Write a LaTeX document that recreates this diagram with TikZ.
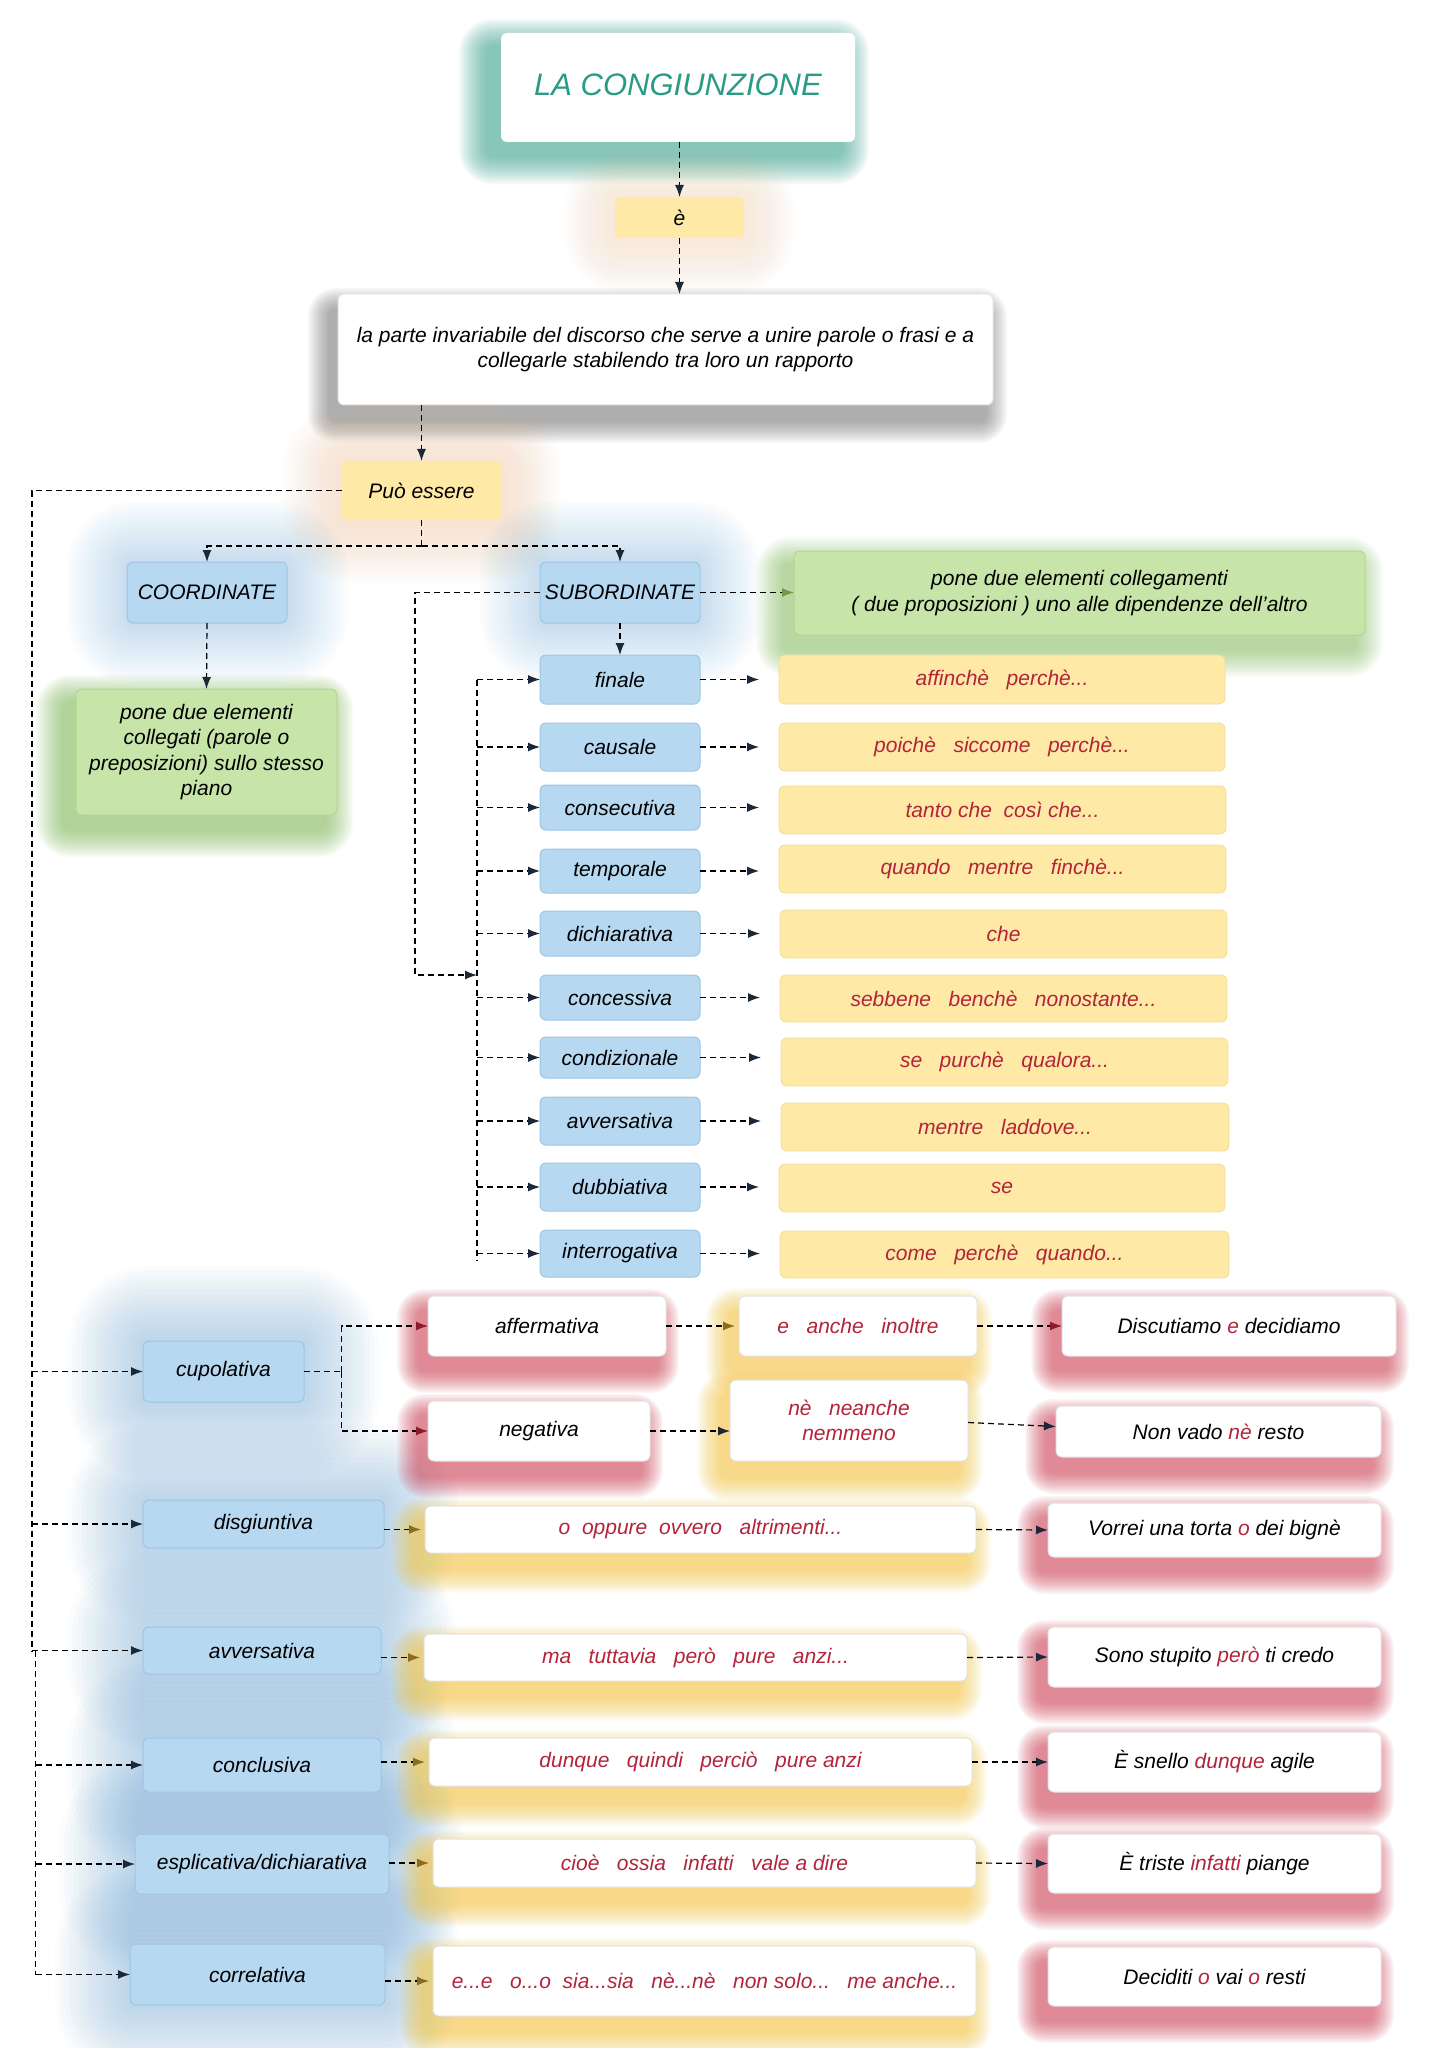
\documentclass[tikz,border=0pt]{standalone}
\usepackage{fontspec}
\setmainfont{Liberation Sans}
\usetikzlibrary{arrows.meta,calc}
\definecolor{bfill}{HTML}{B7D8F1}
\definecolor{bdraw}{HTML}{9EC5E3}
\definecolor{yfill}{HTML}{FEE9A6}
\definecolor{ydraw}{HTML}{F3DC9A}
\definecolor{gfill}{HTML}{C7E5A9}
\definecolor{gdraw}{HTML}{B2D693}
\definecolor{wdraw}{HTML}{E2E2E2}
\definecolor{rtext}{HTML}{B3243A}
\definecolor{ttext}{HTML}{2A9B85}
\definecolor{tglow}{HTML}{3FA893}
\definecolor{oglow}{HTML}{F8C08A}
\definecolor{bglow}{HTML}{6FA8D6}
\definecolor{gglow}{HTML}{7DBA55}
\definecolor{rglow}{HTML}{CF3B50}
\definecolor{yglow}{HTML}{F8C53A}
\definecolor{sglow}{HTML}{606060}
\definecolor{tipR}{HTML}{8E1B2B}
\definecolor{tipG}{HTML}{8C6D1F}
\definecolor{tipV}{HTML}{6E9A4A}
\definecolor{tipB}{HTML}{1B2838}
\pgfdeclarelayer{bglayer}
\pgfdeclarelayer{glowlayer}
\pgfsetlayers{bglayer,glowlayer,main}
\newcommand{\bx}[7][]{%
 \pgfmathsetmacro{\bxcx}{(#3+#5)/2}%
 \pgfmathsetmacro{\bxcy}{(#4+#6)/2}%
 \pgfmathsetmacro{\bxw}{(#5-#3)/2}%
 \pgfmathsetmacro{\bxh}{(#6-#4)/2}%
 \node[#1, minimum width=\bxw pt, minimum height=\bxh pt] (#2) at (\bxcx,\bxcy) {#7};}
% name, colour, radius, dx, dy, opacity per step
\newcommand{\glow}[6]{%
 \foreach \k in {1,...,16}{%
  \pgfmathsetmacro{\gr}{#3*\k/16}%
  \pgfmathsetmacro{\gxa}{#4-\gr}\pgfmathsetmacro{\gya}{#5+\gr}%
  \pgfmathsetmacro{\gxb}{#4+\gr}\pgfmathsetmacro{\gyb}{#5-\gr}%
  \pgfmathsetmacro{\grc}{(\gr+6)*0.5}%
  \fill[#2, opacity=#6, rounded corners=\grc pt] ($(#1.south west)+(\gxa,\gya)$) rectangle ($(#1.north east)+(\gxb,\gyb)$);}}
\tikzset{
 base/.style={rounded corners=3pt, inner sep=1pt, outer sep=0pt, align=center, font=\fontsize{10.5}{12.8}\selectfont\itshape},
 blu/.style={base, fill=bfill, draw=bdraw, line width=0.5pt},
 yel/.style={base, fill=yfill, draw=ydraw, line width=0.4pt, text=rtext},
 yelk/.style={base, fill=yfill, draw=ydraw, line width=0.4pt},
 grn/.style={base, fill=gfill, draw=gdraw, line width=0.5pt},
 wht/.style={base, fill=white, draw=wdraw, line width=0.5pt},
 whr/.style={wht, text=rtext},
 dl/.style={dash pattern=on 3pt off 2pt, line width=0.6pt, black},
 arr/.style={dl, -{Latex[length=6pt,width=4.5pt,color=tipB]}},
 arrR/.style={dl, -{Latex[length=6pt,width=4.5pt,color=tipR]}},
 arrG/.style={dl, -{Latex[length=6pt,width=4.5pt,color=tipG]}},
 arrV/.style={dl, -{Latex[length=6pt,width=4.5pt,color=tipV]}},
}
\begin{document}
\begin{tikzpicture}[x=0.5pt,y=-0.5pt]
\begin{pgfonlayer}{bglayer}
\fill[white] (0,0) rectangle (1428,2048);
\end{pgfonlayer}
\useasboundingbox (0,0) rectangle (1428,2048);

% top
\bx[wht, draw=none, text=ttext, font=\fontsize{15.5}{18}\selectfont\itshape]{title}{501}{33}{855}{142}{\raisebox{3pt}{LA CONGIUNZIONE}}
\bx[yelk, draw=none]{e}{615}{197}{744}{238}{è}
\bx[wht]{main}{338}{294}{993}{405}{la parte invariabile del discorso che serve a unire parole o frasi e a\\collegarle stabilendo tra loro un rapporto}
\bx[yelk, draw=none]{puo}{342}{461}{501}{520}{Può essere}
\bx[blu]{coord}{127}{562}{287}{623}{COORDINATE}
\bx[blu]{sub}{540}{562}{700}{623}{SUBORDINATE}
\bx[grn]{g1}{76}{689}{337}{815}{pone due elementi\\collegati (parole o\\preposizioni) sullo stesso\\piano}
\bx[grn]{g2}{794}{551}{1365}{635}{pone due elementi collegamenti\\( due proposizioni ) uno alle dipendenze dell'altro}

% subordinate list
\bx[blu]{fin}{540}{655}{700}{704}{finale}
\bx[blu]{cau}{540}{723}{700}{771}{causale}
\bx[blu]{cons}{540}{785}{700}{830}{consecutiva}
\bx[blu]{temp}{540}{849}{700}{893}{temporale}
\bx[blu]{dich}{540}{911}{700}{956}{dichiarativa}
\bx[blu]{conc}{540}{975}{700}{1020}{concessiva}
\bx[blu]{cond}{540}{1037}{700}{1078}{condizionale}
\bx[blu]{avv}{540}{1097}{700}{1145}{avversativa}
\bx[blu]{dub}{540}{1163}{700}{1211}{dubbiativa}
\bx[blu]{intr}{540}{1230}{700}{1277}{interrogativa}

\bx[yel]{y1}{779}{655}{1225}{704}{affinchè~~~perchè...}
\bx[yel]{y2}{779}{723}{1225}{771}{poichè~~~siccome~~~perchè...}
\bx[yel]{y3}{779}{786}{1226}{834}{tanto che~~così che...}
\bx[yel]{y4}{779}{845}{1226}{893}{quando~~~mentre~~~finchè...}
\bx[yel]{y5}{780}{910}{1227}{958}{che}
\bx[yel]{y6}{780}{975}{1227}{1022}{sebbene~~~benchè~~~nonostante...}
\bx[yel]{y7}{781}{1038}{1228}{1086}{se~~~purchè~~~qualora...}
\bx[yel]{y8}{781}{1103}{1229}{1151}{mentre~~~laddove...}
\bx[yel]{y9}{779}{1164}{1225}{1212}{se}
\bx[yel]{y10}{780}{1231}{1229}{1278}{come~~~perchè~~~quando...}

% coordinate types
\bx[blu]{cup}{143}{1341}{304}{1402}{cupolativa}
\bx[wht]{aff}{428}{1296}{666}{1356}{affermativa}
\bx[wht]{neg}{428}{1401}{650}{1461}{negativa}
\bx[whr]{ean}{739}{1296}{977}{1356}{e~~~anche~~~inoltre}
\bx[whr]{ne}{730}{1380}{968}{1461}{nè~~~neanche\\nemmeno}
\bx[wht]{disc}{1062}{1296}{1396}{1356}{Discutiamo \textcolor{rtext}{e} decidiamo}
\bx[wht]{nonv}{1056}{1406}{1381}{1457}{Non vado \textcolor{rtext}{nè} resto}

\bx[blu]{disg}{143}{1500}{384}{1548}{disgiuntiva}
\bx[whr]{obox}{425}{1506}{976}{1553}{o~~oppure~~ovvero~~~altrimenti...}
\bx[wht]{vorr}{1048}{1503}{1381}{1557}{Vorrei una torta \textcolor{rtext}{o} dei bignè}

\bx[blu]{avv2}{143}{1627}{381}{1674}{avversativa}
\bx[whr]{ma}{424}{1634}{967}{1681}{ma~~~tuttavia~~~però~~~pure~~~anzi...}
\bx[wht]{sono}{1048}{1627}{1381}{1687}{Sono stupito \textcolor{rtext}{però} ti credo}

\bx[blu]{concl}{143}{1738}{381}{1792}{conclusiva}
\bx[whr]{dq}{429}{1738}{972}{1786}{dunque~~~quindi~~~perciò~~~pure anzi}
\bx[wht]{snel}{1048}{1732}{1381}{1792}{È snello \textcolor{rtext}{dunque} agile}

\bx[blu]{espl}{135}{1834}{389}{1894}{esplicativa/dichiarativa}
\bx[whr]{cioe}{433}{1839}{976}{1887}{cioè~~~ossia~~~infatti~~~vale a dire}
\bx[wht]{trist}{1048}{1834}{1381}{1893}{È triste \textcolor{rtext}{infatti} piange}

\bx[blu]{corr}{130}{1944}{385}{2005}{correlativa}
\bx[whr]{ee}{433}{1946}{976}{2016}{e...e~~~o...o~~sia...sia~~~nè...nè~~~non solo...~~~me anche...}
\bx[wht]{decid}{1048}{1947}{1381}{2006}{Deciditi \textcolor{rtext}{o} vai \textcolor{rtext}{o} resti}

% glows
\begin{pgfonlayer}{glowlayer}
\glow{title}{tglow}{28}{-14}{14}{0.055}
\glow{e}{oglow}{50}{0}{4}{0.02}
\glow{main}{sglow}{22}{-8}{16}{0.04}
\glow{puo}{oglow}{60}{0}{4}{0.025}
\glow{coord}{bglow}{60}{0}{0}{0.025}
\glow{sub}{bglow}{60}{0}{0}{0.025}
\glow{g1}{gglow}{28}{-12}{14}{0.05}
\glow{g2}{gglow}{28}{-10}{14}{0.045}
\foreach \n in {cup,disg,avv2,concl,espl,corr}{\glow{\n}{bglow}{75}{0}{0}{0.03}}
\foreach \n in {aff,neg,disc,nonv,vorr,sono,snel,trist,decid}{\glow{\n}{rglow}{22}{-9}{15}{0.05}}
\foreach \n in {ean,ne,obox,ma,dq,cioe,ee}{\glow{\n}{yglow}{24}{-9}{16}{0.05}}
\end{pgfonlayer}

% connectors
\draw[arr] (e.north |- title.south) -- (e.north);
\draw[arr] (e.south) -- (e.south |- main.north);
\draw[arr] (puo.north |- main.south) -- (puo.north);
\coordinate (pb) at (421.5,546);
\draw[dl] (puo.south) -- (pb);
\draw[arr] (pb) -| (coord.north);
\draw[arr] (pb) -| (sub.north);
\draw[arr] (coord.south) -- (g1.north);
\draw[arr] (sub.south) -- (fin.north);
\draw[arrV] (sub.east) -- (sub.east -| g2.west);
\coordinate (sl) at (415,975);
\coordinate (sbus) at (477,975);
\draw[arr] (sub.west) -| (sl) -- (sbus);
\coordinate (bt) at (477,679.5);
\coordinate (bb) at (477,1261);
\draw[dl] (bt) -- (bb);
\foreach \a/\b in {fin/y1,cau/y2,cons/y3,temp/y4,dich/y5,conc/y6,cond/y7,avv/y8,dub/y9,intr/y10}{
  \draw[arr] (bt |- \a.west) -- (\a.west);
  \draw[arr, shorten >=10pt] (\a.east) -- (\a.east -| \b.west);
}
\coordinate (L1) at (32,490.5);
\coordinate (L2) at (32,1651);
\coordinate (L3) at (35.5,1651);
\coordinate (L4) at (35.5,1975);
\draw[dl] (puo.west) -- (L1) -- (L2);
\draw[dl] (L3) -- (L4);
\foreach \n in {cup,disg,avv2}{\draw[arr] (L1 |- \n.west) -- (\n.west);}
\foreach \n in {concl,espl,corr}{\draw[arr] (L3 |- \n.west) -- (\n.west);}
\coordinate (cj) at (341.5,1371.5);
\draw[dl] (cup.east) -- (cj);
\draw[arrR] (cj) |- (aff.west);
\draw[arrR] (cj) |- (neg.west);
\draw[arrG, shorten >=2pt] (aff.east) -- (ean.west);
\draw[arr] (neg.east) -- (neg.east -| ne.west);
\draw[arrR] (ean.east) -- (disc.west);
\draw[arr] ($(ne.east)+(0,2)$) -- ($(nonv.west)+(0,-5)$);
\draw[arrG, shorten >=2pt] (disg.east |- obox.west) -- (obox.west);
\draw[arr] (obox.east) -- (vorr.west);
\draw[arrG, shorten >=2pt] (avv2.east |- ma.west) -- (ma.west);
\draw[arr] (ma.east) -- (sono.west);
\draw[arrG, shorten >=2pt] (concl.east |- dq.west) -- (dq.west);
\draw[arr] (dq.east) -- (snel.west);
\draw[arrG, shorten >=2pt] (espl.east |- cioe.west) -- (cioe.west);
\draw[arr] (cioe.east) -- (trist.west);
\draw[arrG, shorten >=2pt] (corr.east |- ee.west) -- (ee.west);
\end{tikzpicture}
\end{document}
